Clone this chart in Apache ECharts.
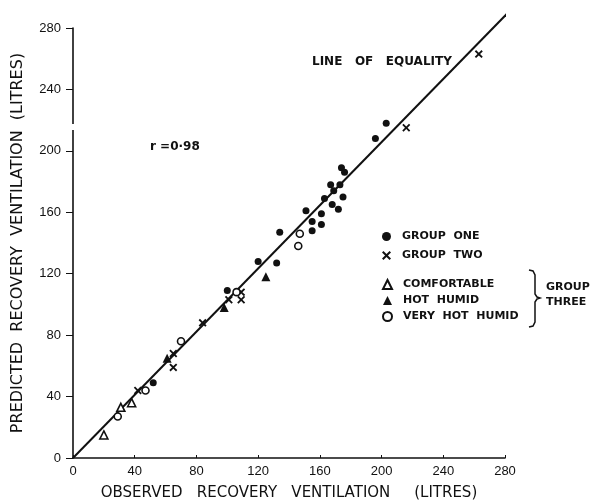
<!DOCTYPE html>
<html><head><meta charset="utf-8">
<script src="https://cdn.jsdelivr.net/npm/echarts@6/dist/echarts.min.js"></script>
<style>html,body{margin:0;padding:0;background:#fff}#c{width:594px;height:501px}</style>
</head><body><div id="c"></div>
<script>
// Observed (x) vs predicted (y) recovery ventilation, litres
const groupOne = [[203,218],[196,208],[174,189],[176,186],[167,178],[173,178],[169,174],[163,169],[175,170],[168,165],[172,162],[151,161],[161,159],[155,154],[161,152],[155,148],[134,147],[132,127],[120,128],[100,109],[52,49]];
const groupTwo = [[263,263],[216,215],[109,108],[101,103],[109,103],[84,88],[65,68],[65,59],[42,44]];
const comfortable = [[38,36],[31,33],[20,15]];
const hotHumid = [[125,118],[98,98],[61,65]];
const veryHotHumid = [[147,146],[146,138],[106,108],[70,76],[47,44],[29,27]];
const equalityLine = [[0,0],[282,290]];
const axisMin = 0, axisMax = 280, axisStep = 40;
const names = ['GROUP  ONE','GROUP  TWO','COMFORTABLE','HOT  HUMID','VERY  HOT  HUMID'];

const ink = '#111';
const xPath = 'path://M0,1.6L1.6,0L5,3.4L8.4,0L10,1.6L6.6,5L10,8.4L8.4,10L5,6.6L1.6,10L0,8.4L3.4,5Z';
const chart = echarts.init(document.getElementById('c'), null, {renderer:'canvas'});
const axisCommon = {
  type:'value', min:axisMin, max:axisMax, interval:axisStep,
  splitLine:{show:false},
  axisLine:{lineStyle:{color:ink,width:1.6}},
  axisLabel:{color:ink,fontSize:13,fontFamily:'Liberation Sans'},
  nameLocation:'middle',
  nameTextStyle:{color:ink,fontSize:15,fontFamily:'DejaVu Sans'}
};
const legendText = {color:ink,fontSize:11,fontWeight:'bold',fontFamily:'DejaVu Sans',padding:[0,0,0,6]};
const solid = {color:ink,opacity:1};
const hollow = {color:'#fff',borderColor:ink,borderWidth:1.6,opacity:1};
chart.setOption({
  animation:false,
  backgroundColor:'#fff',
  grid:{left:73,right:89,top:28,bottom:43,containLabel:false,outerBoundsMode:'none'},
  xAxis:Object.assign({}, axisCommon, {
    axisTick:{inside:true,length:3,lineStyle:{color:ink}},
    axisLabel:Object.assign({}, axisCommon.axisLabel, {margin:7}),
    name:'OBSERVED   RECOVERY   VENTILATION     (LITRES)', nameGap:28
  }),
  yAxis:Object.assign({}, axisCommon, {
    axisTick:{length:7,lineStyle:{color:ink}},
    axisLabel:Object.assign({}, axisCommon.axisLabel, {margin:12}),
    name:'PREDICTED  RECOVERY  VENTILATION  (LITRES)', nameGap:47, nameRotate:90,
    nameTextStyle:{color:ink,fontSize:16,fontFamily:'DejaVu Sans'}
  }),
  legend:[
    {data:names.slice(0,2),orient:'vertical',left:377,top:226,itemWidth:9,itemHeight:9,itemGap:8,textStyle:legendText,selectedMode:false},
    {data:names.slice(2),orient:'vertical',left:377,top:274,itemWidth:9,itemHeight:9,itemGap:5,textStyle:legendText,selectedMode:false}
  ],
  series:[
    {type:'line',data:equalityLine,symbol:'none',clip:false,silent:true,z:1,
     lineStyle:{color:ink,width:2}},
    {name:names[0],type:'scatter',data:groupOne,symbol:'circle',symbolSize:7,z:3,itemStyle:solid},
    {name:names[1],type:'scatter',data:groupTwo,symbol:xPath,symbolSize:8,z:3,itemStyle:solid},
    {name:names[2],type:'scatter',data:comfortable,symbol:'triangle',symbolSize:8,z:3,itemStyle:hollow},
    {name:names[3],type:'scatter',data:hotHumid,symbol:'triangle',symbolSize:9,z:3,itemStyle:solid},
    {name:names[4],type:'scatter',data:veryHotHumid,symbol:'circle',symbolSize:7,z:3,itemStyle:hollow}
  ],
  graphic:[
    {type:'rect',shape:{x:69,y:124,width:8,height:6},style:{fill:'#fff'},z:10},
    {type:'text',x:312,y:56,style:{text:'LINE   OF   EQUALITY',fill:ink,font:'bold 12px "DejaVu Sans"'}},
    {type:'text',x:150,y:141,style:{text:'r =0·98',fill:ink,font:'bold 12px "DejaVu Sans"'}},
    {type:'polyline',shape:{points:[[529,270],[533,271],[535,275],[535,294],[537,297],[540,298],[537,299],[535,302],[535,322],[533,326],[529,327]]},
     style:{fill:null,stroke:ink,lineWidth:1.5}},
    {type:'text',x:546,y:282,style:{text:'GROUP',fill:ink,font:'bold 11px "DejaVu Sans"'}},
    {type:'text',x:546,y:297,style:{text:'THREE',fill:ink,font:'bold 11px "DejaVu Sans"'}}
  ]
});
</script></body></html>
